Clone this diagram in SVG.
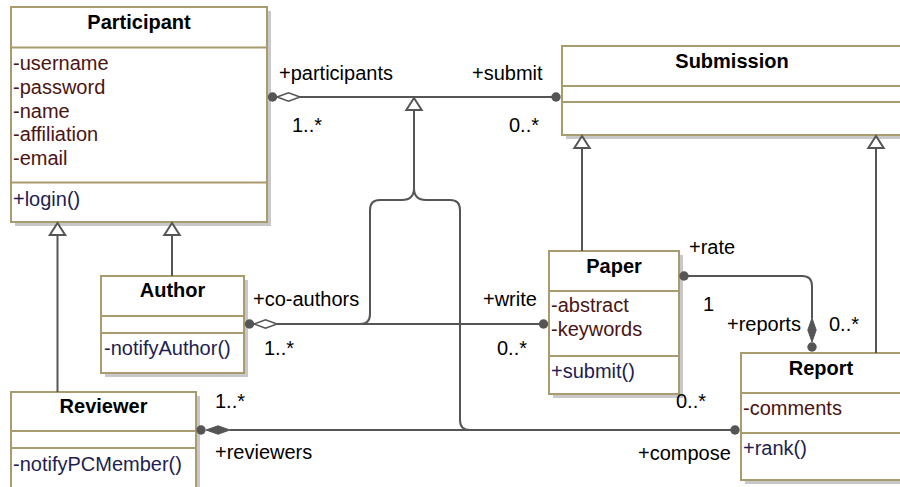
<svg xmlns="http://www.w3.org/2000/svg" width="900" height="487" viewBox="0 0 900 487">
<defs>
<style>
.box{fill:#fff;stroke:#a89b6e;stroke-width:2}
.sh{fill:#c8c8c8}
.sep{stroke:#a89b6e;stroke-width:2}
text{font-family:"Liberation Sans",Arial,sans-serif;font-size:20px}
.title{font-weight:bold;text-anchor:middle;fill:#000}
.attr{fill:#4b1414}
.op{fill:#1e1e50}
.lbl{fill:#000}
.c{fill:none;stroke:#555;stroke-width:2}
.dot{fill:#555}
.hd{fill:#fff;stroke:#555;stroke-width:1.6}
.fd{fill:#555;stroke:#555;stroke-width:1}
.tri{fill:#fff;stroke:#555;stroke-width:2}
</style>
</defs>
<rect width="900" height="487" fill="#fff"/>

<g id="Participant">
<rect class="sh" x="15" y="11" width="256" height="215"/>
<rect class="box" x="11" y="7" width="256" height="215"/>
<line class="sep" x1="11" y1="47.5" x2="267" y2="47.5"/>
<line class="sep" x1="11" y1="182.5" x2="267" y2="182.5"/>
<text class="title" x="139" y="29">Participant</text>
<text class="attr" x="13" y="70">-username</text>
<text class="attr" x="13" y="93.8">-password</text>
<text class="attr" x="13" y="117.6">-name</text>
<text class="attr" x="13" y="141.4">-affiliation</text>
<text class="attr" x="13" y="165.2">-email</text>
<text class="op" x="13" y="206">+login()</text>
</g>

<g id="Submission">
<rect class="sh" x="566" y="50" width="340" height="89"/>
<rect class="box" x="562" y="46" width="340" height="89"/>
<line class="sep" x1="562" y1="86" x2="902" y2="86"/>
<line class="sep" x1="562" y1="102" x2="902" y2="102"/>
<text class="title" x="732" y="67.5">Submission</text>
</g>

<g id="Author">
<rect class="sh" x="105" y="280" width="143" height="97"/>
<rect class="box" x="101" y="276" width="143" height="97"/>
<line class="sep" x1="101" y1="316" x2="244" y2="316"/>
<line class="sep" x1="101" y1="333" x2="244" y2="333"/>
<text class="title" x="172.5" y="297">Author</text>
<text class="op" x="104" y="355">-notifyAuthor()</text>
</g>

<g id="Paper">
<rect class="sh" x="553" y="255" width="130" height="143"/>
<rect class="box" x="549" y="251" width="130" height="143"/>
<line class="sep" x1="549" y1="291" x2="679" y2="291"/>
<line class="sep" x1="549" y1="356" x2="679" y2="356"/>
<text class="title" x="614" y="273">Paper</text>
<text class="attr" x="551" y="312">-abstract</text>
<text class="attr" x="551" y="335.5">-keywords</text>
<text class="op" x="551" y="377.5">+submit()</text>
</g>

<g id="Report">
<rect class="sh" x="745" y="357" width="162" height="127"/>
<rect class="box" x="741" y="353" width="162" height="127"/>
<line class="sep" x1="741" y1="393" x2="903" y2="393"/>
<line class="sep" x1="741" y1="433" x2="903" y2="433"/>
<text class="title" x="821" y="375">Report</text>
<text class="attr" x="743" y="415">-comments</text>
<text class="op" x="743" y="455">+rank()</text>
</g>

<g id="Reviewer">
<rect class="sh" x="15" y="396" width="185" height="100"/>
<rect class="box" x="11" y="392" width="185" height="100"/>
<line class="sep" x1="11" y1="431" x2="196" y2="431"/>
<line class="sep" x1="11" y1="448" x2="196" y2="448"/>
<text class="title" x="103.5" y="413">Reviewer</text>
<text class="op" x="13" y="471">-notifyPCMember()</text>
</g>

<g id="connectors">
<line class="c" x1="300" y1="97" x2="556" y2="97"/>
<circle class="dot" cx="272.5" cy="97" r="4.7"/>
<path class="hd" d="M277,97 L288.5,92.8 L300,97 L288.5,101.2 Z"/>
<circle class="dot" cx="556" cy="97" r="4.7"/>

<line class="c" x1="414" y1="110" x2="414" y2="190" stroke-width="2.6"/>
<path class="tri" d="M414,98 L421.7,110 L406.3,110 Z"/>
<path class="c" d="M414,188 Q414,200 402,200 L380,200 Q370,200 370,210 L370,314 Q370,324 360,324"/>
<path class="c" d="M414,188 Q414,200 426,200 L450,200 Q460,200 460,210 L460,420 Q460,430 470,430"/>

<line class="c" x1="277" y1="324" x2="543" y2="324"/>
<circle class="dot" cx="249.5" cy="324" r="4.7"/>
<path class="hd" d="M254,324 L265.5,319.8 L277,324 L265.5,328.2 Z"/>
<circle class="dot" cx="543.5" cy="324" r="4.7"/>

<line class="c" x1="230" y1="430" x2="735" y2="430"/>
<circle class="dot" cx="201" cy="430" r="4.7"/>
<path class="fd" d="M206,430 L218,425.8 L230,430 L218,434.2 Z"/>
<circle class="dot" cx="735" cy="430" r="4.7"/>

<path class="c" d="M684,276 L802,276 Q812,276 812,286 L812,318"/>
<circle class="dot" cx="684" cy="276" r="4.7"/>
<path class="fd" d="M812,318 L816.2,330 L812,342 L807.8,330 Z"/>
<circle class="dot" cx="812" cy="347" r="4.7"/>

<line class="c" x1="172" y1="276" x2="172" y2="235"/>
<path class="tri" d="M172,223 L179.7,235 L164.3,235 Z"/>
<line class="c" x1="57.5" y1="392" x2="57.5" y2="235"/>
<path class="tri" d="M57.5,223 L65.2,235 L49.8,235 Z"/>
<line class="c" x1="582" y1="251" x2="582" y2="148"/>
<path class="tri" d="M582,136 L589.7,148 L574.3,148 Z"/>
<line class="c" x1="876" y1="353" x2="876" y2="148"/>
<path class="tri" d="M876,136 L883.7,148 L868.3,148 Z"/>
</g>

<g id="labels">
<text class="lbl" x="279" y="80">+participants</text>
<text class="lbl" x="292" y="131.5">1..*</text>
<text class="lbl" x="472" y="80">+submit</text>
<text class="lbl" x="509" y="131.5">0..*</text>
<text class="lbl" x="253" y="306">+co-authors</text>
<text class="lbl" x="264" y="355">1..*</text>
<text class="lbl" x="483" y="306">+write</text>
<text class="lbl" x="497" y="355">0..*</text>
<text class="lbl" x="689" y="254">+rate</text>
<text class="lbl" x="703" y="311">1</text>
<text class="lbl" x="727" y="331">+reports</text>
<text class="lbl" x="829" y="331">0..*</text>
<text class="lbl" x="676" y="407.5">0..*</text>
<text class="lbl" x="638" y="460">+compose</text>
<text class="lbl" x="215" y="407.5">1..*</text>
<text class="lbl" x="215" y="459">+reviewers</text>
</g>
</svg>
